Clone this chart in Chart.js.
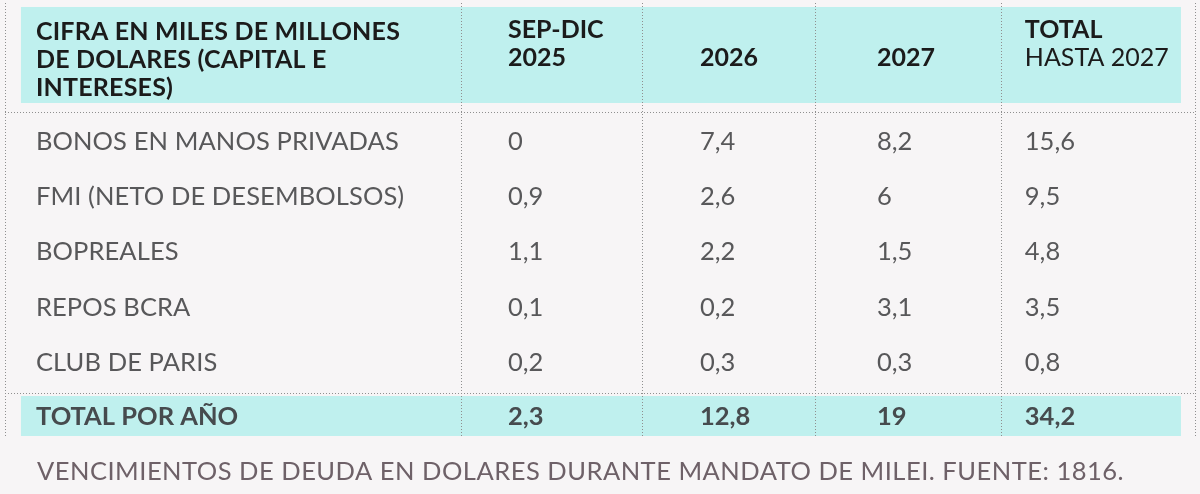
<!DOCTYPE html>
<html>
<head>
<meta charset="utf-8">
<script src="https://cdn.jsdelivr.net/npm/chart.js@4.4.0/dist/chart.umd.min.js"></script>
<style>
  html, body { margin: 0; padding: 0; background: #f7f5f6; }
  #wrap { width: 1200px; height: 494px; position: relative; }
</style>
</head>
<body>
<div id="wrap"><canvas id="debtTable"></canvas></div>
<script>
// ===== data =====
const headerLabel = ["CIFRA EN MILES DE MILLONES", "DE DOLARES (CAPITAL E", "INTERESES)"];
const columnHeaders = [["SEP-DIC", "2025"], ["2026"], ["2027"], ["TOTAL", "HASTA 2027"]];
const rowLabels = ["BONOS EN MANOS PRIVADAS", "FMI (NETO DE DESEMBOLSOS)", "BOPREALES", "REPOS BCRA", "CLUB DE PARIS"];
const sepDic2025 = [0, 0.9, 1.1, 0.1, 0.2];
const year2026 = [7.4, 2.6, 2.2, 0.2, 0.3];
const year2027 = [8.2, 6, 1.5, 3.1, 0.3];
const totalTo2027 = [15.6, 9.5, 4.8, 3.5, 0.8];
const totalLabel = "TOTAL POR AÑO";
const totalsPerYear = [2.3, 12.8, 19, 34.2];
const footnote = "VENCIMIENTOS DE DEUDA EN DOLARES DURANTE MANDATO DE MILEI. FUENTE: 1816.";

// ===== layout (scale units: x = share of table width, y = row pitch) =====
const colEdges = [0, 0.384, 0.5353, 0.6807, 0.837, 1];
const colTextX = [0.026, 0.4227, 0.584, 0.7328, 0.857];
const bandX = [0.0134, 0.9882];
const headerBand = [0.072, 1.808];
const totalBand = [7.107, 7.83];
const rules = [1.989, 7.07];
const headerLineY = [0.506, 1.013, 1.519];
const colHeadY = [0.47, 0.976];
const firstRowY = 2.486;
const totalRowY = 7.468;
const yMax = 7.848;

const fmt = v => String(v).replace(".", ",");

const valueColumns = [sepDic2025, year2026, year2027, totalTo2027];

function drawText(ctx, str, px, cy, size, weight, color, spacing) {
  ctx.font = `${weight} ${size}px Lato`;
  ctx.fillStyle = color;
  ctx.textBaseline = "alphabetic";
  ctx.textAlign = "left";
  ctx.letterSpacing = (spacing || 0) + "px";
  ctx.fillText(str, px, cy + size * 0.36);
  ctx.letterSpacing = "0px";
}

const tablePlugin = {
  id: "tablePlugin",
  beforeDraw(chart) {
    const { ctx, scales: { x, y } } = chart;
    ctx.save();
    ctx.fillStyle = "#f7f5f6";
    ctx.fillRect(0, 0, chart.width, chart.height);
    ctx.fillStyle = "#bff0ee";
    [headerBand, totalBand].forEach(([y0, y1]) => {
      const left = x.getPixelForValue(bandX[0]);
      const top = y.getPixelForValue(y0);
      ctx.fillRect(left, top, x.getPixelForValue(bandX[1]) - left, y.getPixelForValue(y1) - top);
    });
    ctx.restore();
  },
  afterDraw(chart) {
    const { ctx, scales: { x, y }, chartArea } = chart;
    ctx.save();

    // header
    headerLabel.forEach((t, i) => {
      drawText(ctx, t, x.getPixelForValue(colTextX[0]), y.getPixelForValue(headerLineY[i]), 25, "bold", "#1b1b1b", 0.2);
    });
    columnHeaders.forEach((lines, c) => {
      const px = x.getPixelForValue(colTextX[c + 1]);
      if (lines.length === 1) {
        drawText(ctx, lines[0], px, y.getPixelForValue(colHeadY[1]), 25, "bold", "#1b1b1b");
      } else {
        lines.forEach((t, i) => {
          const isSub = c === 3 && i === 1;
          drawText(ctx, t, px, y.getPixelForValue(colHeadY[i]), 25, isSub ? "normal" : "bold", "#1b1b1b");
        });
      }
    });

    // row labels
    rowLabels.forEach((t, i) => {
      drawText(ctx, t, x.getPixelForValue(colTextX[0]), y.getPixelForValue(firstRowY + i), 25.5, "normal", "#58585a", 0.1);
    });

    // values from dataset points
    chart.data.datasets.forEach((ds, d) => {
      const meta = chart.getDatasetMeta(d);
      meta.data.forEach((pt, i) => {
        drawText(ctx, fmt(ds.values[i]), pt.x, pt.y, 25.5, ds.weight, ds.color);
      });
    });

    drawText(ctx, totalLabel, x.getPixelForValue(colTextX[0]), y.getPixelForValue(totalRowY), 25.5, "bold", "#464b4e");

    // footnote
    drawText(ctx, footnote, x.getPixelForValue(colTextX[0]) + 1, chartArea.bottom + 34, 25.5, "normal", "#6e6168", 0.5);
    ctx.restore();
  }
};

const datasets = valueColumns.map((vals, c) => ({
  values: vals,
  weight: "normal",
  color: "#58585a",
  data: vals.map((v, i) => ({ x: colTextX[c + 1], y: firstRowY + i })),
  pointRadius: 0
}));
datasets.push({
  values: totalsPerYear,
  weight: "bold",
  color: "#464b4e",
  data: totalsPerYear.map((v, c) => ({ x: colTextX[c + 1], y: totalRowY })),
  pointRadius: 0
});

new Chart(document.getElementById("debtTable"), {
  type: "scatter",
  data: { datasets },
  options: {
    responsive: true,
    maintainAspectRatio: false,
    animation: false,
    events: [],
    layout: { padding: { left: 5, right: 5, top: 3, bottom: 57 } },
    plugins: { legend: { display: false }, tooltip: { enabled: false } },
    scales: {
      x: {
        type: "linear",
        min: 0,
        max: 1,
        afterBuildTicks: s => { s.ticks = colEdges.map(v => ({ value: v })); },
        ticks: { display: false },
        grid: { color: "#8f8f8f", lineWidth: 1, drawTicks: false },
        border: { display: false, dash: [1, 2] }
      },
      y: {
        type: "linear",
        reverse: true,
        min: 0,
        max: yMax,
        afterBuildTicks: s => { s.ticks = rules.map(v => ({ value: v })); },
        ticks: { display: false },
        grid: { color: "#8f8f8f", lineWidth: 1, drawTicks: false },
        border: { display: false, dash: [1, 2] }
      }
    }
  },
  plugins: [tablePlugin]
});
</script>
</body>
</html>
